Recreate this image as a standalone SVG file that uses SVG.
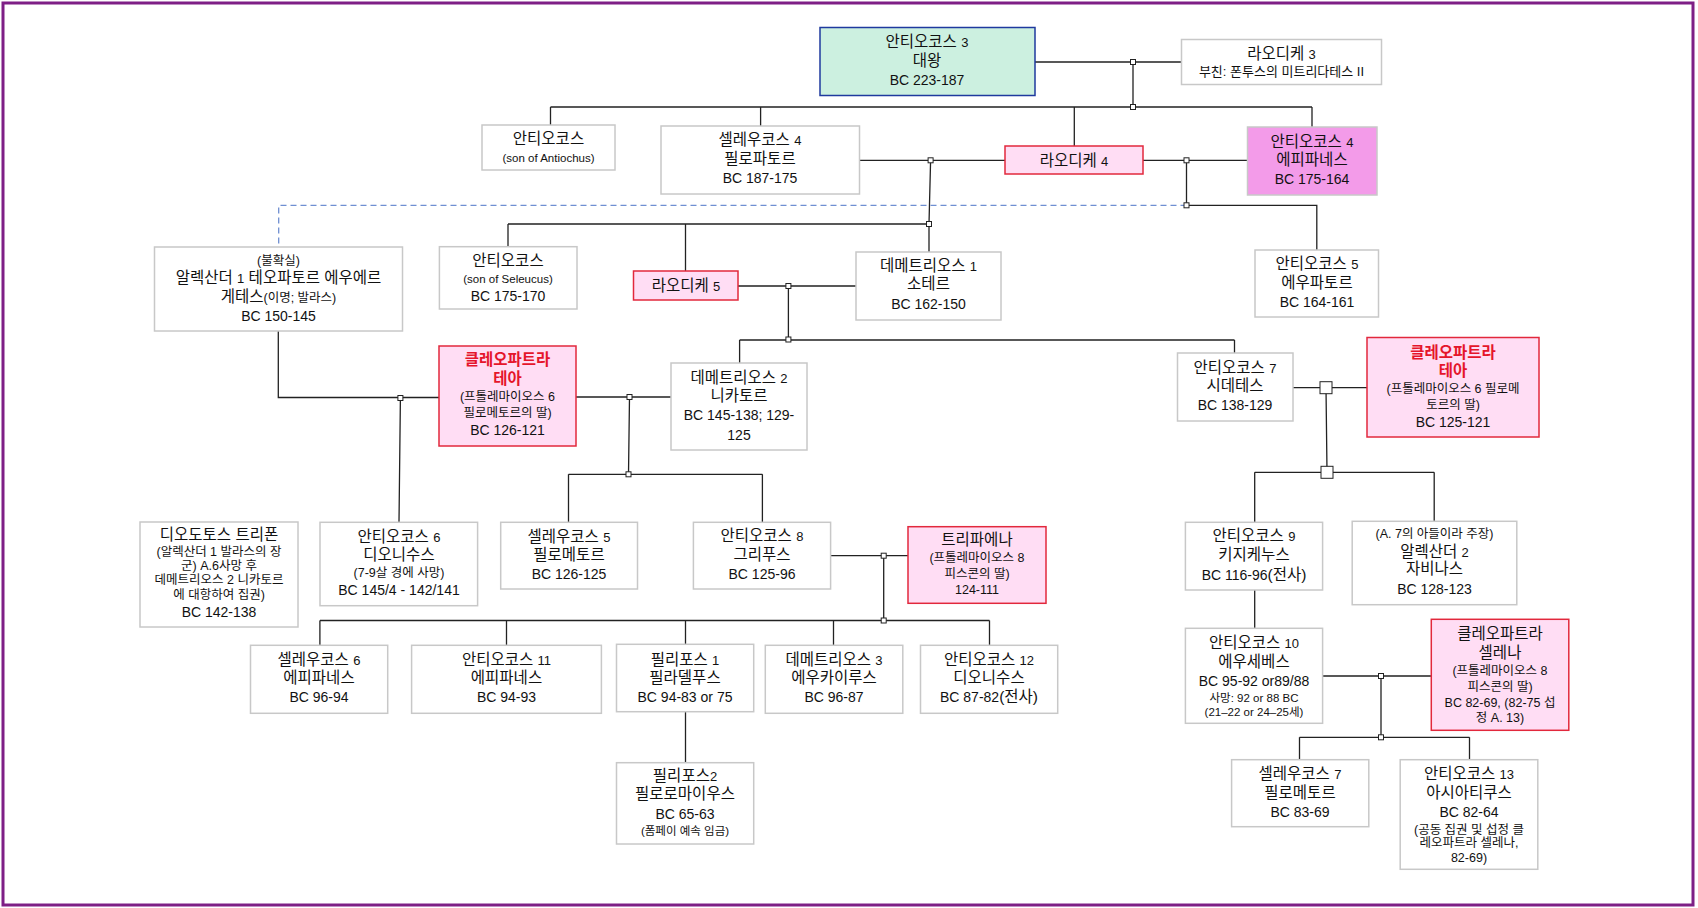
<svg xmlns="http://www.w3.org/2000/svg" width="1698" height="908" viewBox="0 0 1698 908">
<style>
.box{fill:#fff;stroke:#C8C8C8;stroke-width:1.5}
.pink{fill:#FFDDF4;stroke:#E2283C;stroke-width:1.5}
.green{fill:#CCF0E0;stroke:#1F3A9E;stroke-width:1.5}
.mag{fill:#F39BE9;stroke:#C8C8C8;stroke-width:1.5}
text{font-family:"Liberation Sans","Noto Sans CJK KR",sans-serif;fill:#111;text-anchor:middle;font-size:15.5px}
.d{font-size:13px}
.dt{font-size:14px}
.n{font-size:12.5px}
.e{font-size:11.5px}
.r{fill:#E5152B;font-weight:bold}
.j{fill:#fff;stroke:#222;stroke-width:1}
</style>
<rect x="3" y="3" width="1690" height="902" fill="#fff" stroke="#7E1F86" stroke-width="3"/>

<g id="connectors" fill="none" stroke="#222" stroke-width="1.3">
<path d="M1035 62H1181.5M1133 62V107"/>
<path d="M550.5 107H1312M550.5 107V125M760.6 107V126M1074.3 107V146M1312 107V127"/>
<path d="M859.5 160.3H1005M1143 160.3H1247.5"/>
<path d="M930.6 160.3L929 224V252M508 224H929M508 224V246.7M685.5 224V271"/>
<path d="M738 286H856M788.4 286V339.5"/>
<path d="M739.6 340H1234.5M739.6 340V363M1234.5 340V353"/>
<path d="M1186.5 160.3V205.3H1316.8V250"/>
<path d="M1186.5 205.3H278.7V247" stroke="#6F8FD2" stroke-dasharray="6 4"/>
<path d="M278.3 331V397.5H439M400.4 398L399 522.3"/>
<path d="M576 397H671M629.5 397L628.5 474.3M568.5 474.3H762.4M568.5 474.3V522M762.4 474.3V522.3"/>
<path d="M830.6 555.7H908M883.7 555.7V620.5"/>
<path d="M319.9 620.5H989.5M319.9 620.5V645.3M506.5 620.5V645.3M685.5 620.5V644.3M833.5 620.5V645.3M989.5 620.5V645.3"/>
<path d="M685.5 711.7V762.7"/>
<path d="M1293 387.7H1367M1326 387.7L1327 472.3M1254.7 472.3H1434.2M1254.7 472.3V522.3M1434.2 472.3V521.3"/>
<path d="M1254.7 590V628.3"/>
<path d="M1322.6 676H1431.3M1381 676V737.3M1299.5 737.3H1469.5M1299.5 737.3V759.7M1469.5 737.3V759.7"/>
<g class="j">
<rect x="1130.5" y="59.5" width="5" height="5"/>
<rect x="1130.5" y="104.5" width="5" height="5"/>
<rect x="928.1" y="157.8" width="5" height="5"/>
<rect x="926.5" y="221.5" width="5" height="5"/>
<rect x="785.9" y="283.5" width="5" height="5"/>
<rect x="785.9" y="337" width="5" height="5"/>
<rect x="1184" y="157.8" width="5" height="5"/>
<rect x="1184" y="202.8" width="5" height="5"/>
<rect x="397.9" y="395.5" width="5" height="5"/>
<rect x="627" y="394.5" width="5" height="5"/>
<rect x="626" y="471.8" width="5" height="5"/>
<rect x="881.2" y="553.2" width="5" height="5"/>
<rect x="881.2" y="618" width="5" height="5"/>
<rect x="1378.5" y="673.5" width="5" height="5"/>
<rect x="1378.5" y="734.8" width="5" height="5"/>
<rect x="1320" y="381.7" width="12" height="12"/>
<rect x="1321" y="466.3" width="12" height="12"/>
</g>
</g>

<g id="n_antiochus3"><rect class="green" x="820" y="27.5" width="215" height="68"/>
<text x="927" y="46.5">안티오코스 <tspan class="d">3</tspan></text><text x="927" y="66">대왕</text><text class="dt" x="927" y="85">BC 223-187</text></g>

<g id="n_laodice3"><rect class="box" x="1181.5" y="39.5" width="200" height="45"/>
<text x="1281.5" y="59.3">라오디케 <tspan class="d">3</tspan></text><text class="d" x="1281.5" y="76">부친: 폰투스의 미트리다테스 II</text></g>

<g id="n_antiochus_a"><rect class="box" x="482" y="125" width="133" height="45"/>
<text x="548.5" y="143.7">안티오코스</text><text class="e" x="548.5" y="161.5">(son of Antiochus)</text></g>

<g id="n_seleucus4"><rect class="box" x="661" y="126" width="198.5" height="68"/>
<text x="760" y="145.3">셀레우코스 <tspan class="d">4</tspan></text><text x="760" y="163.7">필로파토르</text><text class="dt" x="760" y="182.7">BC 187-175</text></g>

<g id="n_laodice4"><rect class="pink" x="1005" y="146" width="138" height="28"/>
<text x="1074" y="166">라오디케 <tspan class="d">4</tspan></text></g>

<g id="n_antiochus4"><rect class="mag" x="1247.5" y="127" width="129.5" height="68"/>
<text x="1312" y="147">안티오코스 <tspan class="d">4</tspan></text><text x="1312" y="165.3">에피파네스</text><text class="dt" x="1312" y="184.3">BC 175-164</text></g>

<g id="n_antiochus5"><rect class="box" x="1255" y="250" width="123.5" height="67"/>
<text x="1317" y="269.3">안티오코스 <tspan class="d">5</tspan></text><text x="1317" y="287.7">에우파토르</text><text class="dt" x="1317" y="307">BC 164-161</text></g>

<g id="n_alexander1"><rect class="box" x="154.5" y="247" width="248" height="84"/>
<text class="n" x="278.5" y="264.5">(불확실)</text><text x="278.5" y="282.7">알렉산더 <tspan class="d">1</tspan> 테오파토르 에우에르</text><text x="278.5" y="302">게테스<tspan class="n">(이명; 발라스)</tspan></text><text class="dt" x="278.5" y="321">BC 150-145</text></g>

<g id="n_antiochus_s"><rect class="box" x="439.4" y="246.7" width="137.6" height="62.3"/>
<text x="508" y="266">안티오코스</text><text class="e" x="508" y="282.7">(son of Seleucus)</text><text class="dt" x="508" y="301">BC 175-170</text></g>

<g id="n_laodice5"><rect class="pink" x="633.5" y="271" width="104.5" height="29"/>
<text x="686" y="291">라오디케 <tspan class="d">5</tspan></text></g>

<g id="n_demetrius1"><rect class="box" x="856" y="252" width="145" height="68"/>
<text x="928.5" y="271">데메트리오스 <tspan class="d">1</tspan></text><text x="928.5" y="289.3">소테르</text><text class="dt" x="928.5" y="308.7">BC 162-150</text></g>

<g id="n_cleo_thea_l"><rect class="pink" x="439" y="346" width="137" height="100"/>
<text class="r" x="507.5" y="365.3">클레오파트라</text><text class="r" x="507.5" y="383.7">테아</text><text class="n" x="507.5" y="401.2">(프톨레마이오스 6</text><text class="n" x="507.5" y="416.8">필로메토르의 딸)</text><text class="dt" x="507.5" y="435">BC 126-121</text></g>

<g id="n_demetrius2"><rect class="box" x="671" y="363" width="136" height="87"/>
<text x="739" y="382.7">데메트리오스 <tspan class="d">2</tspan></text><text x="739" y="401">니카토르</text><text class="dt" x="739" y="420">BC 145-138; 129-</text><text class="dt" x="739" y="440">125</text></g>

<g id="n_antiochus7"><rect class="box" x="1177.5" y="353" width="115.5" height="68"/>
<text x="1235" y="372.7">안티오코스 <tspan class="d">7</tspan></text><text x="1235" y="391.3">시데테스</text><text class="dt" x="1235" y="410">BC 138-129</text></g>

<g id="n_cleo_thea_r"><rect class="pink" x="1367" y="337.5" width="172" height="99.5"/>
<text class="r" x="1453" y="357.7">클레오파트라</text><text class="r" x="1453" y="376">테아</text><text class="n" x="1453" y="392.8">(프톨레마이오스 6 필로메</text><text class="n" x="1453" y="408.5">토르의 딸)</text><text class="dt" x="1453" y="427">BC 125-121</text></g>

<g id="n_diodotus"><rect class="box" x="140" y="522" width="158" height="105"/>
<text x="219" y="540">디오도토스 트리폰</text><text class="n" x="219" y="556">(알렉산더 1 발라스의 장</text><text class="n" x="219" y="570">군) A.6사망 후</text><text class="n" x="219" y="584">데메트리오스 2 니카토르</text><text class="n" x="219" y="598.5">에 대항하여 집권)</text><text class="dt" x="219" y="617.3">BC 142-138</text></g>

<g id="n_antiochus6"><rect class="box" x="320" y="522.3" width="157.6" height="83.4"/>
<text x="399" y="541.7">안티오코스 <tspan class="d">6</tspan></text><text x="399" y="560">디오니수스</text><text class="n" x="399" y="577">(7-9살 경에 사망)</text><text class="dt" x="399" y="595">BC 145/4 - 142/141</text></g>

<g id="n_seleucus5"><rect class="box" x="500.7" y="522.3" width="136.8" height="66.7"/>
<text x="569" y="541.7">셀레우코스 <tspan class="d">5</tspan></text><text x="569" y="560">필로메토르</text><text class="dt" x="569" y="579">BC 126-125</text></g>

<g id="n_antiochus8"><rect class="box" x="693.4" y="522.3" width="137.2" height="66.7"/>
<text x="762" y="541.3">안티오코스 <tspan class="d">8</tspan></text><text x="762" y="560">그리푸스</text><text class="dt" x="762" y="579">BC 125-96</text></g>

<g id="n_tryphaena"><rect class="pink" x="908" y="526.7" width="138" height="76.6"/>
<text x="977" y="544.7">트리파에나</text><text class="n" x="977" y="561.5">(프톨레마이오스 8</text><text class="n" x="977" y="577.8">피스콘의 딸)</text><text class="n" x="977" y="593.5">124-111</text></g>

<g id="n_antiochus9"><rect class="box" x="1185.4" y="522.3" width="137.2" height="67.7"/>
<text x="1254" y="541">안티오코스 <tspan class="d">9</tspan></text><text x="1254" y="560.3">키지케누스</text><text class="dt" x="1254" y="580">BC 116-96<tspan font-size="15.5">(전사)</tspan></text></g>

<g id="n_alexander2"><rect class="box" x="1352.2" y="521.3" width="164.6" height="83.4"/>
<text class="n" x="1434.5" y="537.8">(A. 7의 아들이라 주장)</text><text x="1434.5" y="556.7">알렉산더 <tspan class="d">2</tspan></text><text x="1434.5" y="574.3">자비나스</text><text class="dt" x="1434.5" y="593.7">BC 128-123</text></g>

<g id="n_seleucus6"><rect class="box" x="250.5" y="645.3" width="137.2" height="68"/>
<text x="319" y="664.7">셀레우코스 <tspan class="d">6</tspan></text><text x="319" y="683.3">에피파네스</text><text class="dt" x="319" y="702">BC 96-94</text></g>

<g id="n_antiochus11"><rect class="box" x="411.6" y="645.3" width="189.8" height="68"/>
<text x="506.5" y="664.7">안티오코스 <tspan class="d">11</tspan></text><text x="506.5" y="683.3">에피파네스</text><text class="dt" x="506.5" y="702">BC 94-93</text></g>

<g id="n_philip1"><rect class="box" x="616.5" y="644.3" width="137.2" height="67.4"/>
<text x="685" y="664.7">필리포스 <tspan class="d">1</tspan></text><text x="685" y="683.3">필라델푸스</text><text class="dt" x="685" y="702">BC 94-83 or 75</text></g>

<g id="n_demetrius3"><rect class="box" x="765.3" y="645.3" width="137.5" height="68"/>
<text x="834" y="664.7">데메트리오스 <tspan class="d">3</tspan></text><text x="834" y="683.3">에우카이루스</text><text class="dt" x="834" y="702">BC 96-87</text></g>

<g id="n_antiochus12"><rect class="box" x="920.5" y="645.3" width="137.2" height="68"/>
<text x="989" y="664.7">안티오코스 <tspan class="d">12</tspan></text><text x="989" y="683.3">디오니수스</text><text class="dt" x="989" y="702">BC 87-82<tspan font-size="15.5">(전사)</tspan></text></g>

<g id="n_philip2"><rect class="box" x="616.5" y="762.7" width="137.2" height="81.3"/>
<text x="685" y="780.7">필리포스<tspan class="d">2</tspan></text><text x="685" y="799.3">필로로마이우스</text><text class="dt" x="685" y="819">BC 65-63</text><text class="e" x="685" y="834.5">(폼페이 예속 임금)</text></g>

<g id="n_antiochus10"><rect class="box" x="1185.4" y="628.3" width="137.2" height="95"/>
<text x="1254" y="648.3">안티오코스 <tspan class="d">10</tspan></text><text x="1254" y="667">에우세베스</text><text class="dt" x="1254" y="686">BC 95-92 or89/88</text><text class="e" x="1254" y="701.7">사망: 92 or 88 BC</text><text class="e" x="1254" y="715.7">(21–22 or 24–25세)</text></g>

<g id="n_cleo_selene"><rect class="pink" x="1431.3" y="619.3" width="137.5" height="111"/>
<text x="1500" y="639.3">클레오파트라</text><text x="1500" y="657.7">셀레나</text><text class="n" x="1500" y="675.2">(프톨레마이오스 8</text><text class="n" x="1500" y="690.5">피스콘의 딸)</text><text class="n" x="1500" y="706.8">BC 82-69, (82-75 섭</text><text class="n" x="1500" y="722.2">정 A. 13)</text></g>

<g id="n_seleucus7"><rect class="box" x="1231.6" y="759.7" width="137.2" height="67"/>
<text x="1300" y="779.3">셀레우코스 <tspan class="d">7</tspan></text><text x="1300" y="797.7">필로메토르</text><text class="dt" x="1300" y="817">BC 83-69</text></g>

<g id="n_antiochus13"><rect class="box" x="1400.2" y="759.7" width="137.6" height="109.6"/>
<text x="1469" y="779.3">안티오코스 <tspan class="d">13</tspan></text><text x="1469" y="797.7">아시아티쿠스</text><text class="dt" x="1469" y="817">BC 82-64</text><text class="n" x="1469" y="833.5">(공동 집권 및 섭정 클</text><text class="n" x="1469" y="847.2">레오파트라 셀레나,</text><text class="n" x="1469" y="862">82-69)</text></g>
</svg>
